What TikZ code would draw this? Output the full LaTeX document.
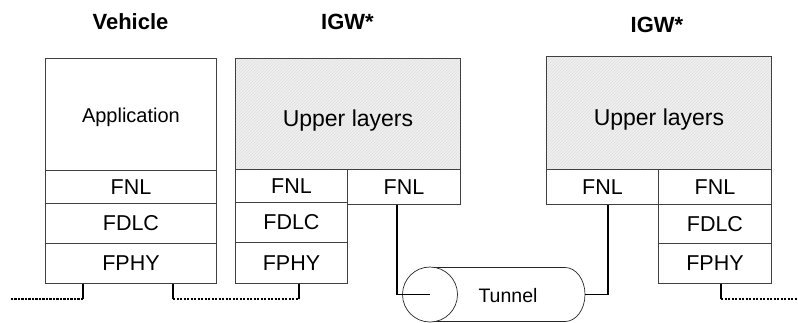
\documentclass[tikz,border=0pt]{standalone}
\usepackage{fontspec}
\setmainfont{Liberation Sans}
\usetikzlibrary{patterns,calc}
\tikzset{
  layer/.style={draw=black!75, line width=0.9pt, inner sep=0pt, anchor=north west, fill=white,
    font=\fontsize{21.5}{24}\selectfont},
  upper/.style={draw=black!75, line width=0.9pt, inner sep=0pt, anchor=north west,
    preaction={fill=black!6}, pattern=north east lines, pattern color=black!13,
    font=\fontsize{23}{26}\selectfont, text height=30pt, text depth=5pt},
  head/.style={font=\fontsize{22}{26}\selectfont\bfseries, inner sep=0pt},
  conn/.style={line width=1.8pt, black},
  dotline/.style={line width=1.8pt, black, dash pattern=on 2.2pt off 1.3pt},
  tube/.style={line width=0.7pt, black!85}
}
\begin{document}
\begin{tikzpicture}[x=1pt,y=-1pt]
\useasboundingbox (0,0) rectangle (798,322);
% headings
\node[head] (hv) at (130.5,22) {Vehicle};
\node[head] (hi1) at (347.5,22) {IGW*};
\node[head] (hi2) at (657,25) {IGW*};
% Vehicle stack
\node[layer, minimum width=171, minimum height=112, font=\fontsize{20}{24}\selectfont,
  text height=20.5pt, text depth=4.2pt] (app) at (45,58) {Application};
\node[layer, minimum width=171, minimum height=33] (fnl1) at (45,170) {FNL};
\node[layer, minimum width=171, minimum height=40] (fdlc1) at (45,203) {FDLC};
\node[layer, minimum width=171, minimum height=40] (fphy1) at (45,243) {FPHY};
% IGW 1
\node[upper, minimum width=225, minimum height=111] (up1) at (235,58) {Upper layers};
\node[layer, minimum width=112, minimum height=33] (fnl2) at (235,169) {FNL};
\node[layer, minimum width=112, minimum height=40] (fdlc2) at (235,202) {FDLC};
\node[layer, minimum width=112, minimum height=41] (fphy2) at (235,242) {FPHY};
\node[layer, minimum width=113, minimum height=35] (fnl3) at (347,169) {FNL};
% IGW 2
\node[upper, minimum width=225, minimum height=113] (up2) at (546,56) {Upper layers};
\node[layer, minimum width=112, minimum height=35] (fnl4) at (546,169) {FNL};
\node[layer, minimum width=113, minimum height=35] (fnl5) at (658,169) {FNL};
\node[layer, minimum width=113, minimum height=39] (fdlc5) at (658,204) {FDLC};
\node[layer, minimum width=113, minimum height=40] (fphy5) at (658,243) {FPHY};
% Tunnel
\draw[tube] (430,267.5) -- (565,267.5)
  .. controls (576,267.5) and (585,279.5) .. (585,294.5)
  .. controls (585,309.5) and (576,321.5) .. (565,321.5) -- (430,321.5);
\node[tube, draw, circle, minimum size=55, inner sep=0pt, fill=white] (tl) at (430,294.5) {};
\coordinate (tr) at (585,294.5);
\node[font=\fontsize{19.5}{22}\selectfont, inner sep=0pt] (tun) at (508,296) {Tunnel};
% tunnel connectors
\draw[conn] ([xshift=50pt]fnl3.south west) |- (tl.center);
\draw[conn] ([xshift=62pt]fnl4.south west) |- (tr);
% physical links
\coordinate (le) at (10,298);
\coordinate (re) at (798,298);
\draw[conn] ([xshift=38pt]fphy1.south west) -- ++(0,15) coordinate (a1);
\draw[dotline] (a1) -- (le |- a1);
\draw[conn] ([xshift=128pt]fphy1.south west) -- ++(0,15) coordinate (a2);
\draw[conn] ([xshift=64pt]fphy2.south west) -- ++(0,15) coordinate (a3);
\draw[dotline] (a2) -- (a3);
\draw[conn] ([xshift=63pt]fphy5.south west) -- ++(0,15) coordinate (a4);
\draw[dotline] (a4) -- (re |- a4);
\end{tikzpicture}
\end{document}
